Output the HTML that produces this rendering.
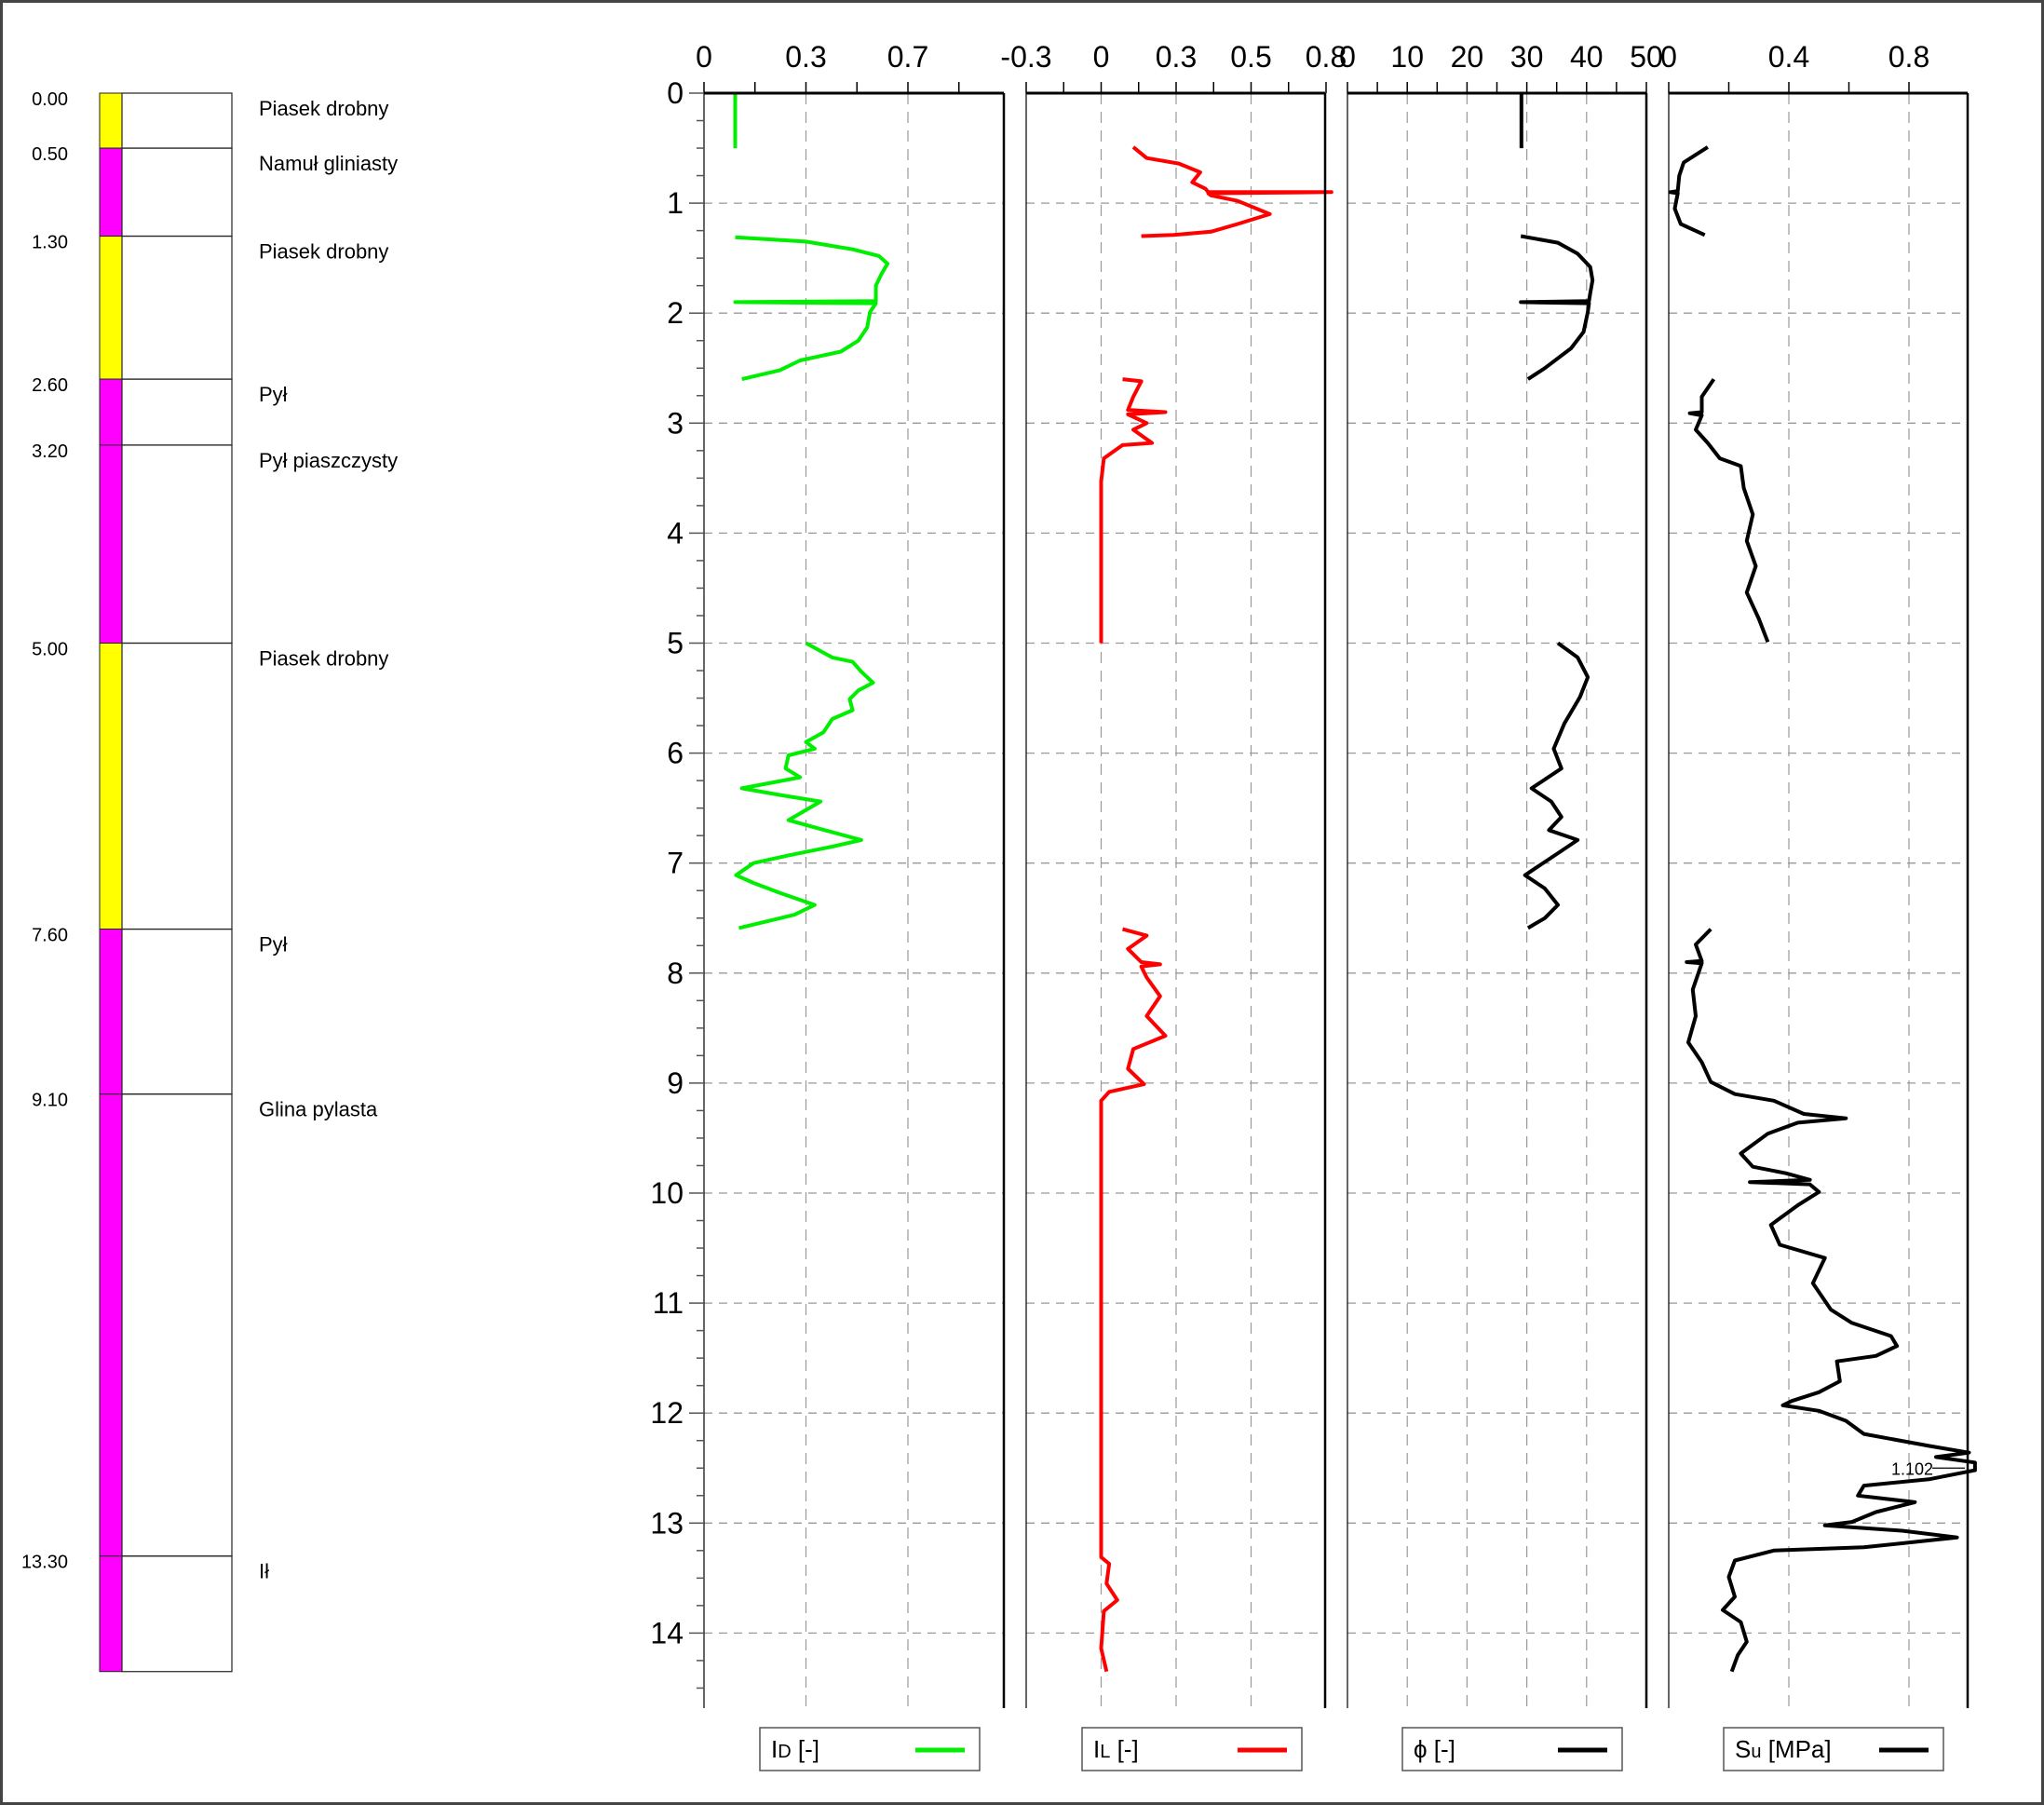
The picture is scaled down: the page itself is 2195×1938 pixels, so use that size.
<!DOCTYPE html>
<html><head><meta charset="utf-8">
<style>
html,body{margin:0;padding:0;background:#fff;}
svg{display:block;font-family:"Liberation Sans Narrow","Liberation Sans",sans-serif;}
</style></head>
<body>
<svg id="chart" width="2195" height="1938" viewBox="0 0 2195 1938">
<rect x="1.5" y="1.5" width="2192" height="1935" fill="#fff" stroke="#444" stroke-width="3"/>
<g id="strat"></g>
<g id="grid"></g>
<g id="series"></g>
<g id="axes"></g>
<g id="legend"></g>
</svg>
<script>
// ---- data ----
const layerTops = [0.00, 0.50, 1.30, 2.60, 3.20, 5.00, 7.60, 9.10, 13.30];
const layerNames = ["Piasek drobny","Namuł gliniasty","Piasek drobny","Pył","Pył piaszczysty","Piasek drobny","Pył","Glina pylasta","Ił"];
const layerColors = ["#ffff00","#ff00ff","#ffff00","#ff00ff","#ff00ff","#ffff00","#ff00ff","#ff00ff","#ff00ff"];
const bottomDepth = 14.35;
const depthTicks = [0,1,2,3,4,5,6,7,8,9,10,11,12,13,14];

const idTickLabels = ["0","0.3","0.7"];
const idTickValues = [0,0.35,0.7];
const ilTickLabels = ["-0.3","0","0.3","0.5","0.8"];
const ilTickValues = [-0.28,0,0.28,0.56,0.84];
const phiTickLabels = ["0","10","20","30","40","50"];
const phiTickValues = [0,10,20,30,40,50];
const suTickLabels = ["0","0.4","0.8"];
const suTickValues = [0,0.4,0.8];

// series: arrays of [depth, value] segments
const idSeg1 = [[0,0.107],[0.5,0.107]];
const idSeg2 = [[1.31,0.107],[1.35,0.35],[1.42,0.51],[1.48,0.6],[1.55,0.63],[1.64,0.61],[1.75,0.59],[1.89,0.59],[1.9,0.107],[1.91,0.59],[1.99,0.57],[2.13,0.56],[2.25,0.53],[2.35,0.47],[2.43,0.33],[2.52,0.26],[2.6,0.13]];
const idSeg3 = [[5.0,0.35],[5.13,0.44],[5.17,0.51],[5.26,0.54],[5.36,0.58],[5.43,0.53],[5.51,0.5],[5.61,0.51],[5.69,0.44],[5.81,0.41],[5.9,0.35],[5.96,0.38],[6.02,0.29],[6.14,0.28],[6.22,0.33],[6.32,0.13],[6.38,0.26],[6.44,0.4],[6.61,0.29],[6.69,0.4],[6.79,0.54],[6.85,0.44],[6.93,0.29],[7.0,0.17],[7.11,0.11],[7.18,0.17],[7.27,0.26],[7.38,0.38],[7.47,0.31],[7.59,0.12]];
const ilSeg1 = [[0.49,0.12],[0.59,0.17],[0.64,0.29],[0.72,0.37],[0.81,0.34],[0.87,0.39],[0.9,0.4],[0.9,0.86],[0.91,0.4],[0.93,0.41],[0.98,0.51],[1.1,0.63],[1.19,0.51],[1.26,0.41],[1.29,0.27],[1.3,0.15]];
const ilSeg2 = [[2.6,0.08],[2.62,0.15],[2.76,0.12],[2.88,0.1],[2.9,0.24],[2.92,0.1],[3.0,0.17],[3.06,0.12],[3.18,0.19],[3.2,0.08],[3.32,0.01],[3.53,0],[5.0,0]];
const ilSeg3 = [[7.6,0.08],[7.66,0.17],[7.78,0.1],[7.9,0.15],[7.92,0.22],[7.94,0.15],[8.04,0.17],[8.21,0.22],[8.39,0.17],[8.57,0.24],[8.69,0.12],[8.87,0.1],[9.01,0.16],[9.08,0.03],[9.16,0],[13.31,0],[13.37,0.03],[13.55,0.02],[13.7,0.06],[13.8,0.01],[14.14,0],[14.35,0.02]];
const phiSeg1 = [[0,29.1],[0.5,29.1]];
const phiSeg2 = [[1.3,29],[1.36,35.2],[1.46,38.5],[1.58,40.6],[1.7,41],[1.82,40.6],[1.89,40.4],[1.9,29],[1.91,40.4],[1.99,40.2],[2.17,39.5],[2.32,37.4],[2.5,33],[2.6,30.2]];
const phiSeg3 = [[5.0,35.2],[5.13,38.5],[5.31,40.2],[5.49,38.9],[5.73,36.3],[5.96,34.5],[6.14,35.8],[6.32,30.8],[6.44,34.1],[6.58,35.8],[6.7,33.7],[6.79,38.5],[6.91,35.2],[7.03,31.9],[7.11,29.7],[7.23,33],[7.38,35.2],[7.5,33],[7.59,30.2]];
const suSeg1 = [[0.49,0.13],[0.63,0.05],[0.75,0.035],[0.89,0.03],[0.9,0.005],[0.91,0.03],[1.05,0.02],[1.19,0.04],[1.29,0.12]];
const suSeg2 = [[2.6,0.15],[2.76,0.11],[2.9,0.11],[2.91,0.07],[2.93,0.11],[3.06,0.09],[3.18,0.13],[3.32,0.17],[3.39,0.24],[3.59,0.25],[3.83,0.28],[4.07,0.26],[4.3,0.29],[4.54,0.26],[4.78,0.3],[4.99,0.33]];
const suSeg3 = [[7.6,0.14],[7.74,0.09],[7.89,0.11],[7.9,0.06],[7.91,0.11],[8.15,0.08],[8.39,0.09],[8.63,0.065],[8.81,0.11],[8.99,0.14],[9.1,0.22],[9.16,0.35],[9.28,0.45],[9.32,0.59],[9.36,0.43],[9.46,0.33],[9.64,0.24],[9.76,0.28],[9.82,0.39],[9.88,0.47],[9.9,0.27],[9.92,0.47],[9.99,0.5],[10.11,0.43],[10.29,0.34],[10.47,0.37],[10.59,0.52],[10.82,0.48],[11.06,0.54],[11.18,0.61],[11.3,0.74],[11.39,0.76],[11.48,0.69],[11.53,0.56],[11.71,0.57],[11.81,0.5],[11.89,0.41],[11.93,0.38],[11.98,0.5],[12.07,0.59],[12.19,0.65],[12.3,0.87],[12.36,1.0],[12.4,0.89],[12.45,1.02],[12.52,1.02],[12.6,0.87],[12.66,0.65],[12.75,0.63],[12.81,0.82],[12.9,0.69],[12.99,0.61],[13.02,0.52],[13.07,0.78],[13.13,0.96],[13.22,0.65],[13.25,0.35],[13.34,0.22],[13.49,0.2],[13.67,0.22],[13.79,0.18],[13.9,0.24],[14.08,0.26],[14.2,0.23],[14.35,0.21]];
const suMaxLabel = "1.102";
const suMaxDepth = 12.5;

// ---- scales ----
const Y0 = 100, PXM = 118.1, YB = 1834;
const yS = d => Y0 + d*PXM;
const panels = [
  {name:"id", x0:756, x1:1078, v0:0, pxPer:109.5/0.35, ticks:idTickValues, labels:idTickLabels, minor:0.175, color:"#00ee00", segs:[idSeg1,idSeg2,idSeg3], legend:["I","D"," [-]"], lx:816},
  {name:"il", x0:1102, x1:1423, v0:-0.28, pxPer:80.5/0.28, ticks:ilTickValues, labels:ilTickLabels, minor:0.14, color:"#ff0000", segs:[ilSeg1,ilSeg2,ilSeg3], legend:["I","L"," [-]"], lx:1162},
  {name:"phi", x0:1447, x1:1768, v0:0, pxPer:64.2/10, ticks:phiTickValues, labels:phiTickLabels, minor:5, color:"#000", segs:[phiSeg1,phiSeg2,phiSeg3], legend:["\u03d5","", " [-]"], lx:1506},
  {name:"su", x0:1792, x1:2113, v0:0, pxPer:129/0.4, ticks:suTickValues, labels:suTickLabels, minor:0.2, color:"#000", segs:[suSeg1,suSeg2,suSeg3], legend:["S","u"," [MPa]"], lx:1851}
];
const NS = "http://www.w3.org/2000/svg";
function mk(tag, attrs, parent){const e=document.createElementNS(NS,tag);for(const k in attrs)e.setAttribute(k,attrs[k]);parent.appendChild(e);return e;}

// ---- stratigraphy ----
const strat = document.getElementById('strat');
layerTops.forEach((t,i)=>{
  const b = i<layerTops.length-1 ? layerTops[i+1] : bottomDepth;
  const r = mk('rect',{x:107,y:yS(t),width:24,height:yS(b)-yS(t),fill:layerColors[i],stroke:"#222","stroke-width":1},strat);
  
  
  const bx = mk('rect',{x:131,y:yS(t),width:118,height:yS(b)-yS(t),fill:"none",stroke:"#222","stroke-width":1.2},strat);
  
  
  const dl = mk('text',{x:73,y:yS(t)+13,"font-size":20,"text-anchor":"end",fill:"#000"},strat);
  dl.textContent = layerTops[i].toFixed(2);
  
  
  const nl = mk('text',{x:278,y:yS(t)+24,"font-size":22,fill:"#000"},strat);
  nl.textContent = layerNames[i];
  
  
});

// ---- grid, axes, series ----
const grid = document.getElementById('grid'), axes=document.getElementById('axes'), ser=document.getElementById('series'), leg=document.getElementById('legend');
panels.forEach(p=>{
  const xS = v => p.x0 + (v - p.v0)*p.pxPer;
  depthTicks.slice(1).forEach(d=>{
    const l = mk('line',{x1:p.x0,x2:p.x1,y1:yS(d),y2:yS(d),stroke:"#999","stroke-width":1.3,"stroke-dasharray":"9 7"},grid);
    
    
  });
  p.ticks.forEach((v,i)=>{
    const x = xS(v);
    if (x>p.x0+3 && x<p.x1-3){
      const g = mk('line',{x1:x,x2:x,y1:Y0,y2:YB,stroke:"#999","stroke-width":1.2,"stroke-dasharray":"12 8"},grid);
      
      
    }
    const t = mk('text',{x:x,y:72,"font-size":32,"text-anchor":"middle",fill:"#000"},axes);
    t.textContent = p.labels[i];
    
    
  });
  for(let v=p.v0; xS(v)<=p.x1+1; v+=p.minor){
    const x=xS(v);
    const tk = mk('line',{x1:x,x2:x,y1:Y0-12,y2:Y0,stroke:"#000","stroke-width":1.5},axes);
    
    
  }
  const top = mk('line',{x1:p.x0,x2:p.x1,y1:Y0,y2:Y0,stroke:"#000","stroke-width":3},axes);
  
  
  const lft = mk('line',{x1:p.x0,x2:p.x0,y1:Y0,y2:YB,stroke:"#000","stroke-width":1.2},axes);
  
  
  const rgt = mk('line',{x1:p.x1,x2:p.x1,y1:Y0,y2:YB,stroke:"#000","stroke-width":2.5},axes);
  
  
  p.segs.forEach(seg=>{
    const pts = seg.map(pt=>xS(pt[1]).toFixed(1)+","+yS(pt[0]).toFixed(1)).join(" ");
    const pl = mk('polyline',{points:pts,fill:"none",stroke:p.color,"stroke-width":4,"stroke-linejoin":"round"},ser);
    
    
  });
  // legend
  const lr = mk('rect',{x:p.lx,y:1855,width:236,height:46,fill:"#fff",stroke:"#555","stroke-width":1.5},leg);
  
  
  const lt = mk('text',{x:p.lx+12,y:1887,"font-size":26,fill:"#000"},leg);
  
  
  lt.appendChild(document.createTextNode(p.legend[0]));
  if(p.legend[1]){const s=mk('tspan',{"font-size":20},lt);s.textContent=p.legend[1];}
  lt.appendChild(document.createTextNode(p.legend[2]));
  const ll = mk('line',{x1:p.lx+167,x2:p.lx+220,y1:1879,y2:1879,stroke:p.color,"stroke-width":5},leg);
  
  
  if(p.name==="su"){
    const at = mk('text',{x:2031,y:yS(suMaxDepth)+7,"font-size":18,fill:"#000"},ser);
    at.textContent = suMaxLabel;
    
    
    const al = mk('line',{x1:2075,x2:2110,y1:yS(suMaxDepth),y2:yS(suMaxDepth),stroke:"#000","stroke-width":1.2},ser);
    
    
  }
});
// depth axis ticks and labels on first panel
for(let d=0; d<=14.5; d+=0.25){
  const isMajor = Math.abs(d-Math.round(d))<1e-6;
  const tk = mk('line',{x1:isMajor?740:748,x2:756,y1:yS(d),y2:yS(d),stroke:"#555","stroke-width":1.5},axes);
  
  
}
depthTicks.forEach(d=>{
  const t = mk('text',{x:734,y:yS(d)+11,"font-size":32,"text-anchor":"end",fill:"#000"},axes);
  t.textContent = d;
  
  
});
</script>
</body></html>
